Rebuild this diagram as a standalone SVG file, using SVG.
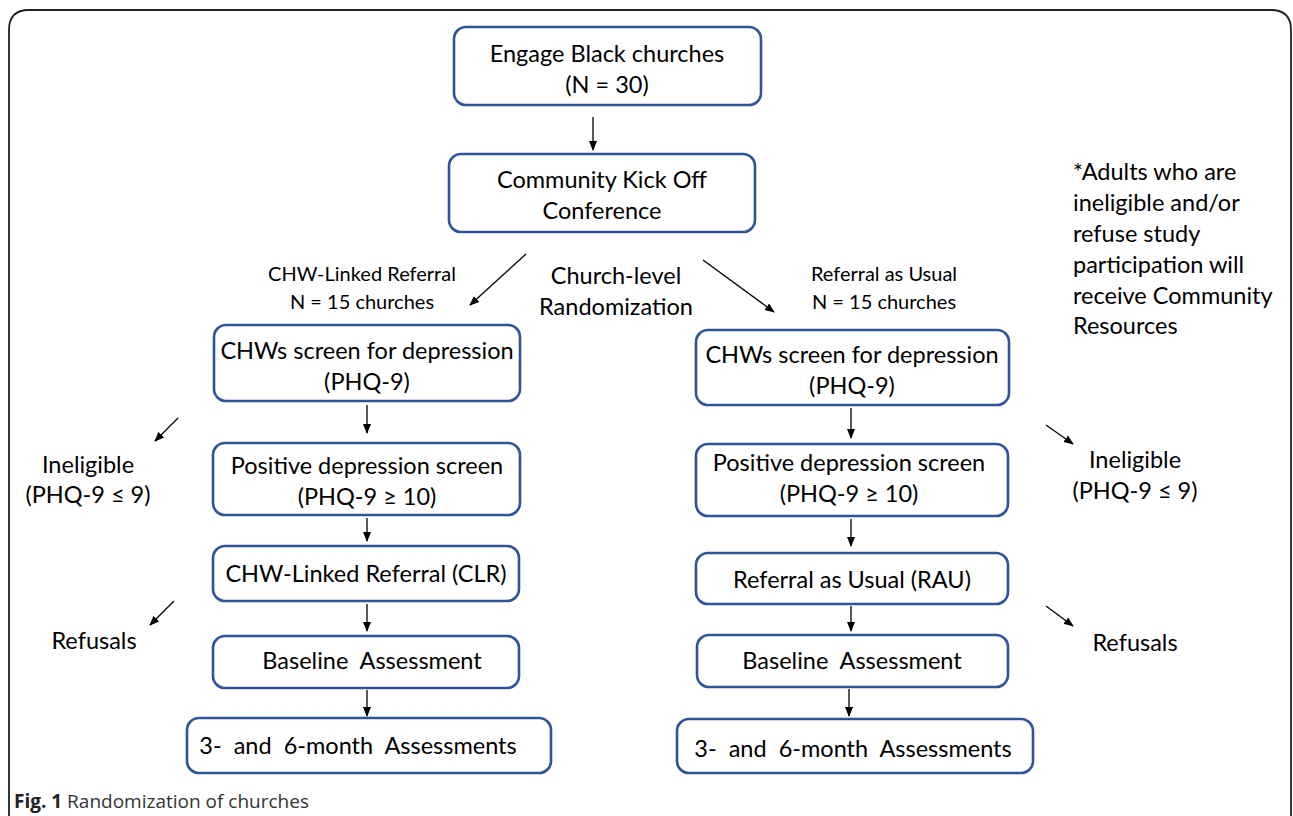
<svg xmlns="http://www.w3.org/2000/svg" width="1293" height="816" viewBox="0 0 1293 816">
<defs>
<marker id="ah" markerWidth="10" markerHeight="10" refX="9" refY="5" orient="auto" markerUnits="userSpaceOnUse">
<path d="M0,1 L10,5 L0,9 Z" fill="#000"/>
</marker>
<style>
.box{fill:#fff;stroke:#2F5597;stroke-width:2.6}
.t{font-family:Lato,"Open Sans",sans-serif;font-size:23.5px;fill:#000;text-anchor:middle}
.s{font-family:Lato,"Open Sans",sans-serif;font-size:20px;fill:#000;text-anchor:middle}
.n{font-family:Lato,"Open Sans",sans-serif;font-size:23.5px;fill:#000}
.c{stroke:#000;stroke-width:1.3;fill:none;marker-end:url(#ah)}
.cap{font-family:"Open Sans","Noto Sans",sans-serif;font-size:19px;fill:#333}
</style>
</defs>
<rect width="1293" height="816" fill="#fff"/>
<path d="M9,830 L9,30 Q9,10 29,10 L1271,10 Q1291,10 1291,30 L1291,830" fill="none" stroke="#222" stroke-width="1.8"/>

<g id="engage"><rect class="box" x="454" y="27" width="307" height="78" rx="12"/><text class="t" x="607" y="62">Engage Black churches</text><text class="t" x="607" y="93">(N = 30)</text></g>
<g id="kickoff"><rect class="box" x="449" y="154" width="306" height="78" rx="12"/><text class="t" x="602" y="188">Community Kick Off</text><text class="t" x="602" y="219">Conference</text></g>

<g id="label-clr"><text class="s" x="362" y="281">CHW-Linked Referral</text><text class="s" x="362" y="309">N = 15 churches</text></g>
<g id="label-rand"><text class="t" x="616" y="284">Church-level</text><text class="t" x="616" y="315">Randomization</text></g>
<g id="label-rau"><text class="s" x="884" y="281">Referral as Usual</text><text class="s" x="884" y="309">N = 15 churches</text></g>

<g id="note"><text class="n" x="1073" y="180">*Adults who are</text><text class="n" x="1073" y="211">ineligible and/or</text><text class="n" x="1073" y="242">refuse study</text><text class="n" x="1073" y="273">participation will</text><text class="n" x="1073" y="304">receive Community</text><text class="n" x="1073" y="334">Resources</text></g>

<g id="l-screen"><rect class="box" x="214" y="325" width="306" height="76" rx="12"/><text class="t" x="367" y="359">CHWs screen for depression</text><text class="t" x="367" y="390">(PHQ-9)</text></g>
<g id="l-positive"><rect class="box" x="213" y="443" width="307" height="72" rx="12"/><text class="t" x="367" y="474">Positive depression screen</text><text class="t" x="367" y="505">(PHQ-9 ≥ 10)</text></g>
<g id="l-clr"><rect class="box" x="213" y="546" width="306" height="55" rx="12"/><text class="t" x="366" y="582">CHW-Linked Referral (CLR)</text></g>
<g id="l-baseline"><rect class="box" x="213" y="636" width="306" height="52" rx="12"/><text class="t" x="372" y="669" xml:space="preserve">Baseline  Assessment</text></g>
<g id="l-followup"><rect class="box" x="187" y="718" width="364" height="55" rx="12"/><text class="t" x="358" y="754" xml:space="preserve">3-  and  6-month  Assessments</text></g>
<g id="l-inelig"><text class="t" x="88" y="473">Ineligible</text><text class="t" x="88" y="503">(PHQ-9 ≤ 9)</text></g>
<g id="l-refusals"><text class="t" x="94" y="649">Refusals</text></g>

<g id="r-screen"><rect class="box" x="696" y="330" width="313" height="75" rx="12"/><text class="t" x="852" y="363">CHWs screen for depression</text><text class="t" x="852" y="394">(PHQ-9)</text></g>
<g id="r-positive"><rect class="box" x="696" y="444" width="312" height="72" rx="12"/><text class="t" x="849" y="471">Positive depression screen</text><text class="t" x="849" y="502">(PHQ-9 ≥ 10)</text></g>
<g id="r-rau"><rect class="box" x="696" y="553" width="312" height="51" rx="12"/><text class="t" x="852" y="588">Referral as Usual (RAU)</text></g>
<g id="r-baseline"><rect class="box" x="697" y="635" width="311" height="52" rx="12"/><text class="t" x="852" y="669" xml:space="preserve">Baseline  Assessment</text></g>
<g id="r-followup"><rect class="box" x="677" y="719" width="356" height="54" rx="12"/><text class="t" x="853" y="757" xml:space="preserve">3-  and  6-month  Assessments</text></g>
<g id="r-inelig"><text class="t" x="1135" y="468">Ineligible</text><text class="t" x="1135" y="499">(PHQ-9 ≤ 9)</text></g>
<g id="r-refusals"><text class="t" x="1135" y="651">Refusals</text></g>

<g id="connectors">
<line class="c" x1="593" y1="117" x2="593" y2="150"/>
<line class="c" x1="526" y1="254" x2="470" y2="305"/>
<line class="c" x1="703" y1="260" x2="774" y2="312"/>
<line class="c" x1="367" y1="405" x2="367" y2="433"/>
<line class="c" x1="367" y1="518" x2="367" y2="541"/>
<line class="c" x1="367" y1="604" x2="367" y2="631"/>
<line class="c" x1="367" y1="690" x2="367" y2="716"/>
<line class="c" x1="178" y1="418" x2="155" y2="441"/>
<line class="c" x1="174" y1="601" x2="150" y2="625"/>
<line class="c" x1="851" y1="408" x2="851" y2="438"/>
<line class="c" x1="851" y1="519" x2="851" y2="546"/>
<line class="c" x1="851" y1="606" x2="851" y2="631"/>
<line class="c" x1="849" y1="689" x2="849" y2="716"/>
<line class="c" x1="1046" y1="425" x2="1073" y2="444"/>
<line class="c" x1="1046" y1="606" x2="1073" y2="626"/>
</g>

<g id="caption"><text class="cap" x="14" y="808"><tspan font-weight="bold" fill="#222">Fig. 1</tspan> Randomization of churches</text></g>
</svg>
